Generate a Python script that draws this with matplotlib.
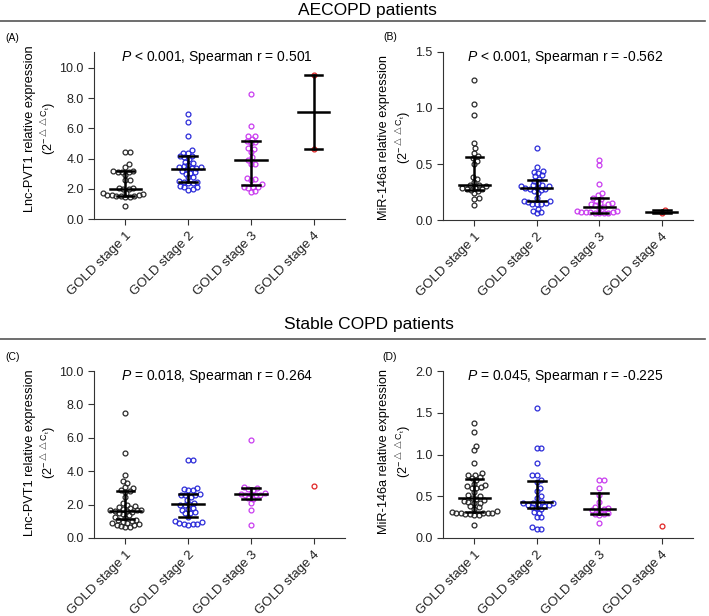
import numpy as np
import matplotlib
matplotlib.use('Agg')
import matplotlib.pyplot as plt

plt.rcParams['font.family'] = ['Liberation Sans', 'DejaVu Sans']
plt.rcParams['mathtext.fontset'] = 'custom'
plt.rcParams['mathtext.rm'] = 'Liberation Sans'
plt.rcParams['mathtext.it'] = 'Liberation Sans:italic'

stages = ['GOLD stage 1', 'GOLD stage 2', 'GOLD stage 3', 'GOLD stage 4']
colors = ['#2a2a2a', '#2b2bd9', '#c93cef', '#e02424']

# (A) AECOPD, Lnc-PVT1
a_vals = [
    [4.45, 4.45, 3.62, 3.42, 3.2, 3.15, 3.13, 3.12, 3.1, 2.9, 2.55, 2.55, 2.05, 2.02,
     2.0, 1.98, 1.75, 1.72, 1.68, 1.62, 1.58, 1.55, 1.5, 1.48, 1.45, 1.5, 1.6, 0.88],
    [6.95, 6.45, 5.52, 4.57, 4.4, 4.38, 4.2, 4.15, 4.1, 3.95, 3.8, 3.7, 3.6, 3.5, 3.45,
     3.45, 3.4, 3.35, 3.3, 3.2, 3.1, 3.05, 3.0, 2.8, 2.75, 2.5, 2.45, 2.45, 2.4, 2.35,
     2.2, 2.15, 2.1, 2.0, 1.95],
    [8.3, 6.18, 5.52, 5.5, 5.3, 5.15, 5.1, 5.0, 4.7, 4.65, 4.45, 4.1, 3.9, 3.65, 3.65,
     2.7, 2.65, 2.6, 2.3, 2.1, 2.1, 2.05, 2.1, 1.85, 1.8],
    [9.5, 4.65],
]
a_med = [2.0, 3.33, 3.9, 7.06]
a_q1 = [1.5, 2.43, 2.25, 4.65]
a_q3 = [3.15, 4.17, 5.16, 9.5]

# (B) AECOPD, MiR-146a
b_vals = [
    [1.25, 1.04, 0.94, 0.69, 0.64, 0.6, 0.57, 0.55, 0.53, 0.5, 0.38, 0.37, 0.34, 0.31,
     0.31, 0.3, 0.29, 0.29, 0.28, 0.28, 0.27, 0.26, 0.24, 0.2, 0.19, 0.13],
    [0.64, 0.47, 0.44, 0.43, 0.42, 0.4, 0.39, 0.37, 0.35, 0.33, 0.31, 0.31, 0.3, 0.3,
     0.29, 0.29, 0.28, 0.28, 0.27, 0.26, 0.24, 0.2, 0.17, 0.17, 0.16, 0.15, 0.14, 0.14,
     0.14, 0.1, 0.08, 0.07, 0.06],
    [0.54, 0.49, 0.32, 0.24, 0.22, 0.2, 0.19, 0.17, 0.15, 0.15, 0.14, 0.14, 0.13, 0.12,
     0.11, 0.08, 0.08, 0.07, 0.07, 0.07, 0.06, 0.06, 0.06, 0.06, 0.07],
    [0.06, 0.09],
]
b_med = [0.31, 0.285, 0.12, 0.075]
b_q1 = [0.27, 0.17, 0.066, 0.06]
b_q3 = [0.565, 0.353, 0.195, 0.09]

# (C) stable COPD, Lnc-PVT1
c_vals = [
    [7.5, 5.1, 3.8, 3.4, 3.3, 3.05, 3.0, 2.85, 2.8, 2.75, 2.45, 2.1, 1.95, 1.9, 1.85,
     1.8, 1.75, 1.7, 1.68, 1.65, 1.6, 1.6, 1.55, 1.5, 1.45, 1.35, 1.25, 1.2, 1.1, 1.05,
     1.0, 0.95, 0.9, 0.9, 0.85, 0.8, 0.75, 0.7, 0.65, 0.65],
    [4.65, 4.65, 3.0, 2.95, 2.9, 2.85, 2.65, 2.6, 2.6, 2.55, 2.45, 2.3, 2.1, 2.05, 2.0,
     1.95, 1.8, 1.75, 1.7, 1.55, 1.5, 1.5, 1.25, 1.0, 0.95, 0.9, 0.85, 0.85, 0.85, 0.8],
    [5.85, 3.05, 3.0, 2.95, 2.9, 2.7, 2.65, 2.65, 2.6, 2.6, 2.55, 2.4, 2.35, 2.1, 1.7, 0.8],
    [3.12],
]
c_med = [1.63, 2.03, 2.65, None]
c_q1 = [1.14, 1.27, 2.33, None]
c_q3 = [2.8, 2.65, 2.97, None]

# (D) stable COPD, MiR-146a
d_vals = [
    [1.38, 1.27, 1.1, 1.05, 0.9, 0.78, 0.76, 0.75, 0.73, 0.72, 0.7, 0.65, 0.63, 0.62,
     0.61, 0.6, 0.6, 0.55, 0.52, 0.5, 0.48, 0.47, 0.45, 0.44, 0.43, 0.42, 0.42, 0.38,
     0.37, 0.35, 0.32, 0.31, 0.3, 0.3, 0.3, 0.3, 0.3, 0.29, 0.29, 0.28, 0.27, 0.16],
    [1.56, 1.08, 1.08, 0.9, 0.75, 0.75, 0.7, 0.67, 0.6, 0.56, 0.5, 0.48, 0.43, 0.42,
     0.42, 0.42, 0.41, 0.4, 0.4, 0.38, 0.37, 0.36, 0.35, 0.31, 0.3, 0.25, 0.25, 0.13,
     0.11, 0.11],
    [0.7, 0.7, 0.6, 0.52, 0.43, 0.37, 0.36, 0.35, 0.34, 0.33, 0.3, 0.29, 0.29, 0.28, 0.18],
    [0.14],
]
d_med = [0.48, 0.43, 0.35, None]
d_q1 = [0.315, 0.36, 0.29, None]
d_q3 = [0.71, 0.68, 0.535, None]


def swarm(ax, x0, vals, d=4.6):
    # simple beeswarm in pixel space
    tr = ax.transData
    pts = tr.transform([(x0, v) for v in vals])
    cx = pts[0, 0]
    order = np.argsort(pts[:, 1])
    placed = []
    out = np.zeros(len(vals))
    for i in order:
        y = pts[i, 1]
        near = [(px, py) for px, py in placed if abs(py - y) < d]
        cands = [0.0]
        for px, py in near:
            dx = np.sqrt(d ** 2 - (py - y) ** 2)
            cands += [px + dx, px - dx]
        cands.sort(key=abs)
        for c in cands:
            if all((c - px) ** 2 + (y - py) ** 2 >= d ** 2 - 1e-6 for px, py in near):
                break
        placed.append((c, y))
        out[i] = c
    inv = tr.inverted()
    return [inv.transform((cx + o, 0))[0] for o in out]


def panel(ax, vals, med, q1, q3, ymax, yticks, ylab, note, lab_x, lab_y):
    ax.set_xlim(0.5, 4.5)
    ax.set_ylim(0, ymax)
    for i, v in enumerate(vals):
        xs = swarm(ax, i + 1, v)
        ax.plot(xs, v, 'o', ms=3.5, mfc='none', mec=colors[i], mew=0.9, zorder=2)
        if med[i] is None:
            continue
        x = i + 1
        ax.plot([x, x], [q1[i], q3[i]], color='black', lw=1.8, zorder=3)
        ax.plot([x - 0.25, x + 0.25], [med[i], med[i]], color='black', lw=1.8, zorder=3)
        ax.plot([x - 0.14, x + 0.14], [q1[i], q1[i]], color='black', lw=1.8, zorder=3)
        ax.plot([x - 0.14, x + 0.14], [q3[i], q3[i]], color='black', lw=1.8, zorder=3)
    ax.set_yticks(yticks)
    ax.set_yticklabels(['%.1f' % t for t in yticks], fontsize=9)
    ax.set_xticks([1, 2, 3, 4])
    ax.set_xticklabels(stages, rotation=45, ha='right', rotation_mode='anchor', fontsize=9.5)
    for s in ['top', 'right']:
        ax.spines[s].set_visible(False)
    for s in ['left', 'bottom']:
        ax.spines[s].set_color('#333333')
    ax.tick_params(direction='out', length=4, color='#333333', labelcolor='#222222')
    ax.set_ylabel(ylab + '\n' + r'(2$^{-\bigtriangleup\bigtriangleup\mathrm{C}_\mathrm{t}}$)',
                  fontsize=9.2, linespacing=1.3)
    ax.yaxis.set_label_coords(lab_x, lab_y)
    ax.text(0.49, 0.965, note, transform=ax.transAxes, ha='center', va='center', fontsize=10)


fig = plt.figure(figsize=(7.09, 6.16), dpi=100)
W, H = 709, 616

axA = fig.add_axes([94 / W, 1 - 219 / H, 251 / W, 167 / H])
axB = fig.add_axes([443 / W, 1 - 220 / H, 250 / W, 168 / H])
axC = fig.add_axes([94 / W, 1 - 538 / H, 251 / W, 167 / H])
axD = fig.add_axes([443 / W, 1 - 538 / H, 250 / W, 167 / H])

panel(axA, a_vals, a_med, a_q1, a_q3, 11.05, [0, 2, 4, 6, 8, 10], 'Lnc-PVT1 relative expression',
      r'$\it{P}$ < 0.001, Spearman r = 0.501', -0.138, 0.54)
panel(axB, b_vals, b_med, b_q1, b_q3, 1.5, [0, 0.5, 1.0, 1.5], 'MiR-146a relative expression',
      r'$\it{P}$ < 0.001, Spearman r = -0.562', -0.118, 0.49)
panel(axC, c_vals, c_med, c_q1, c_q3, 10, [0, 2, 4, 6, 8, 10], 'Lnc-PVT1 relative expression',
      r'$\it{P}$ = 0.018, Spearman r = 0.264', -0.138, 0.51)
panel(axD, d_vals, d_med, d_q1, d_q3, 2.0, [0, 0.5, 1.0, 1.5, 2.0], 'MiR-146a relative expression',
      r'$\it{P}$ = 0.045, Spearman r = -0.225', -0.118, 0.515)

# section headings with rules
fig.text(367 / W, 1 - 11 / H, 'AECOPD patients', ha='center', va='center', fontsize=12.5)
fig.add_artist(plt.Line2D([0, 705 / W], [1 - 21 / H, 1 - 21 / H], color='#555555', lw=1.2))
fig.text(369 / W, 1 - 325 / H, 'Stable COPD patients', ha='center', va='center', fontsize=12.5)
fig.add_artist(plt.Line2D([0, 705 / W], [1 - 339 / H, 1 - 339 / H], color='#555555', lw=1.2))

for t, x, y in [('(A)', 12, 38), ('(B)', 390, 37), ('(C)', 13, 357), ('(D)', 390, 357)]:
    fig.text(x / W, 1 - y / H, t, ha='center', va='center', fontsize=7.5)

fig.savefig('out.png', dpi=100)
